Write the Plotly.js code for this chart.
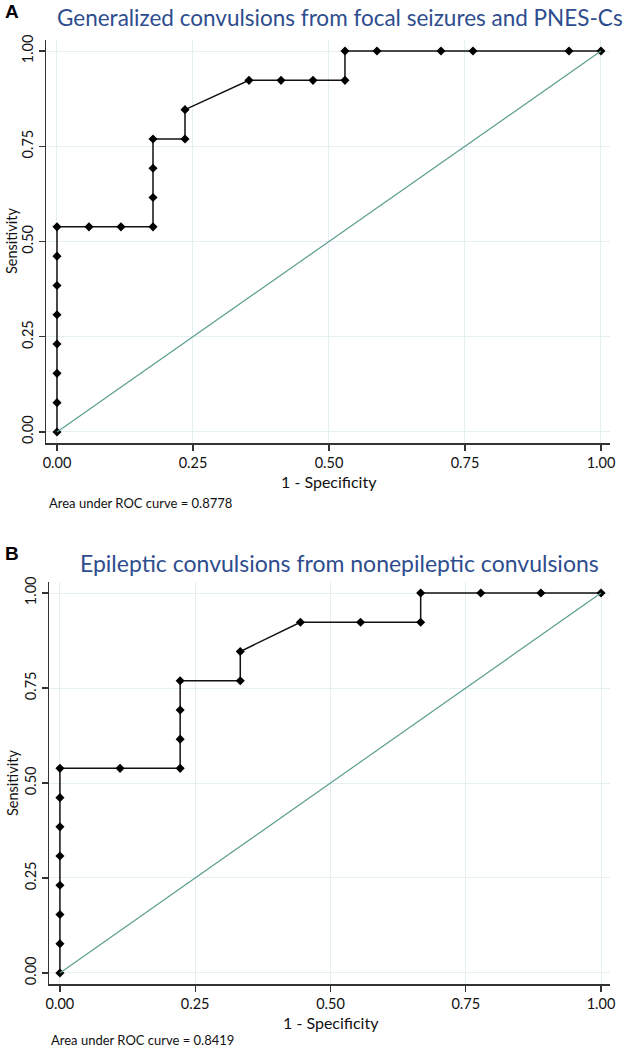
<!DOCTYPE html>
<html>
<head>
<meta charset="utf-8">
<script src="https://cdn.plot.ly/plotly-3.0.1.min.js"></script>
<style>html,body{margin:0;padding:0;background:#fff;}#chart{width:625px;height:1050px;}</style>
</head>
<body>
<div id="chart"></div>
<script>
// Panel A: ROC points (1 - specificity, sensitivity)
const fprA = [0, 0, 0, 0, 0, 0, 0, 0, 0.0588, 0.1176, 0.1765, 0.1765, 0.1765, 0.1765, 0.2353, 0.2353, 0.3529, 0.4118, 0.4706, 0.5294, 0.5294, 0.5882, 0.7059, 0.7647, 0.9412, 1.0];
const tprA = [0, 0.0769, 0.1538, 0.2308, 0.3077, 0.3846, 0.4615, 0.5385, 0.5385, 0.5385, 0.5385, 0.6154, 0.6923, 0.7692, 0.7692, 0.8462, 0.9231, 0.9231, 0.9231, 0.9231, 1.0, 1.0, 1.0, 1.0, 1.0, 1.0];
// Panel B
const fprB = [0, 0, 0, 0, 0, 0, 0, 0, 0.1111, 0.2222, 0.2222, 0.2222, 0.2222, 0.3333, 0.3333, 0.4444, 0.5556, 0.6667, 0.6667, 0.7778, 0.8889, 1.0];
const tprB = [0, 0.0769, 0.1538, 0.2308, 0.3077, 0.3846, 0.4615, 0.5385, 0.5385, 0.5385, 0.6154, 0.6923, 0.7692, 0.7692, 0.8462, 0.9231, 0.9231, 0.9231, 1.0, 1.0, 1.0, 1.0];
const refLine = [0, 1];
const tickVals = [0, 0.25, 0.5, 0.75, 1];
const tickText = ["0.00", "0.25", "0.50", "0.75", "1.00"];
const titleA = "Generalized convulsions from focal seizures and PNES-Cs";
const titleB = "Epileptic convulsions from nonepileptic convulsions";
const aucA = "Area under ROC curve = 0.8778";
const aucB = "Area under ROC curve = 0.8419";
const xLabel = "1 - Specificity";
const yLabel = "Sensitivity";

const W = 625, H = 1050;
const px = x => x / W;
const py = y => 1 - y / H;

const FONT = "Lato, 'Open Sans', sans-serif";
const rocLine = {color: '#111', width: 1.5};
const rocMarker = {symbol: 'diamond', size: 7, color: '#000'};
const refStyle = {color: '#5b9e8f', width: 1.2};

const traces = [
  {x: fprA, y: tprA, mode: 'lines+markers', line: rocLine, marker: rocMarker, xaxis: 'x', yaxis: 'y'},
  {x: refLine, y: refLine, mode: 'lines', line: refStyle, xaxis: 'x', yaxis: 'y'},
  {x: fprB, y: tprB, mode: 'lines+markers', line: rocLine, marker: rocMarker, xaxis: 'x2', yaxis: 'y2'},
  {x: refLine, y: refLine, mode: 'lines', line: refStyle, xaxis: 'x2', yaxis: 'y2'}
];

function xax(domain, anchor) {
  return {domain: domain, anchor: anchor, range: [-0.0202, 1.0166], tickvals: tickVals, ticktext: tickText,
    showgrid: true, gridcolor: '#e3eff0', gridwidth: 1, zeroline: false,
    showline: true, linecolor: '#333', linewidth: 1.5, ticks: 'outside', ticklen: 6, tickcolor: '#333', tickwidth: 1.2,
    tickfont: {family: FONT, size: 14.5, color: '#111'}, fixedrange: true};
}
function yax(domain, anchor) {
  return {domain: domain, anchor: anchor, range: [-0.029, 1.029], tickvals: tickVals, ticktext: tickText,
    showgrid: true, gridcolor: '#e3eff0', gridwidth: 1, zeroline: false,
    showline: true, linecolor: '#333', linewidth: 1.5, ticks: 'outside', ticklen: 6, tickcolor: '#333', tickwidth: 1.2,
    tickangle: -90, tickfont: {family: FONT, size: 14.5, color: '#111'}, fixedrange: true};
}

const ann = (text, x, y, opts) => Object.assign({text: text, xref: 'paper', yref: 'paper', x: px(x), y: py(y), showarrow: false,
  xanchor: 'left', yanchor: 'middle', font: {family: FONT, size: 13, color: '#111'}}, opts || {});

const layout = {
  width: W, height: H, margin: {l: 0, r: 0, t: 0, b: 0},
  paper_bgcolor: '#fff', plot_bgcolor: '#fff', showlegend: false,
  xaxis: xax([px(46), px(610)], 'y'),
  yaxis: yax([py(443), py(40)], 'x'),
  xaxis2: xax([px(49), px(610)], 'y2'),
  yaxis2: yax([py(984), py(582)], 'x2'),
  annotations: [
    ann('<b>A</b>', 3, 11, {font: {family: "'Liberation Sans', Arial, sans-serif", size: 19, color: '#000'}}),
    ann(titleA, 55, 18, {font: {family: FONT, size: 22.5, color: '#2e4d8e'}}),
    ann(yLabel, 12, 241, {textangle: -90, xanchor: 'center', font: {family: FONT, size: 14.5, color: '#111'}}),
    ann(xLabel, 329, 481, {xanchor: 'center', font: {family: FONT, size: 16, color: '#111'}}),
    ann(aucA, 47, 503, {font: {family: FONT, size: 13, color: '#111'}}),
    ann('<b>B</b>', 3, 553, {font: {family: "'Liberation Sans', Arial, sans-serif", size: 19, color: '#000'}}),
    ann(titleB, 78, 563, {font: {family: FONT, size: 23, color: '#2e4d8e'}}),
    ann(yLabel, 12, 783, {textangle: -90, xanchor: 'center', font: {family: FONT, size: 14.5, color: '#111'}}),
    ann(xLabel, 331, 1022, {xanchor: 'center', font: {family: FONT, size: 16, color: '#111'}}),
    ann(aucB, 49, 1040, {font: {family: FONT, size: 13, color: '#111'}})
  ]
};

Plotly.newPlot('chart', traces, layout, {displayModeBar: false, staticPlot: true});
</script>
</body>
</html>
